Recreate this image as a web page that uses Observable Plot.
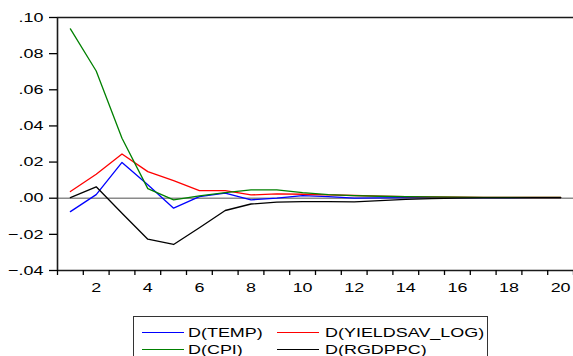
<!DOCTYPE html>
<html><head><meta charset="utf-8">
<script src="https://cdn.jsdelivr.net/npm/d3@7"></script>
<script src="https://cdn.jsdelivr.net/npm/@observablehq/plot@0.6"></script>
<style>
html,body{margin:0;padding:0;background:#fff;}
#wrap{position:relative;width:573px;height:356px;overflow:hidden;font-family:"Liberation Sans",Arial,sans-serif;background:#fff;}
#wrap svg{display:block;}
.leg-box{position:absolute;border:1px solid #333;box-sizing:border-box;}
.leg-line{position:absolute;height:0;border-top:1.3px solid;}
.leg-text{position:absolute;font-size:13px;line-height:13px;white-space:nowrap;transform:scaleX(1.38);transform-origin:0 50%;color:#000;}
</style></head><body><div id="wrap"></div>
<script>
// ---- data (impulse responses, periods 1..20) ----
const steps = [1,2,3,4,5,6,7,8,9,10,11,12,13,14,15,16,17,18,19,20];
const temp     = [-0.0074, 0.0020, 0.0198, 0.0075, -0.0055, 0.0009, 0.0028, -0.0009, 0.0000, 0.0014, 0.0009, 0.0001, 0.0002, 0.0003, 0.0003, 0.0003, 0.0003, 0.0003, 0.0003, 0.0003];
const yieldsav = [0.0037, 0.0133, 0.0245, 0.0147, 0.0097, 0.0042, 0.0042, 0.0018, 0.0024, 0.0022, 0.0018, 0.0015, 0.0012, 0.0009, 0.0007, 0.0006, 0.0005, 0.0005, 0.0004, 0.0004];
const cpi      = [0.0937, 0.0704, 0.0332, 0.0053, -0.0009, 0.0013, 0.0031, 0.0046, 0.0046, 0.0031, 0.0020, 0.0014, 0.0011, 0.0009, 0.0007, 0.0006, 0.0005, 0.0005, 0.0004, 0.0004];
const rgdppc   = [0.0003, 0.0063, -0.0083, -0.0227, -0.0256, -0.0163, -0.0068, -0.0032, -0.0022, -0.0019, -0.0019, -0.0020, -0.0013, -0.0006, -0.0002, 0.0000, 0.0002, 0.0002, 0.0003, 0.0003];
const seriesNames = ["D(TEMP)", "D(YIELDSAV_LOG)", "D(CPI)", "D(RGDPPC)"];
const seriesColors = ["#0000ff", "#ff0000", "#008000", "#000000"];
const yTicks = [-0.04, -0.02, 0.00, 0.02, 0.04, 0.06, 0.08, 0.10];
const xLabelTicks = [2,4,6,8,10,12,14,16,18,20];
const xMinorTicks = d3.range(0.5, 20.6, 1);

const seriesValues = [temp, yieldsav, cpi, rgdppc];
const fmt = d => d3.format(".2f")(d).replace("0.", ".");

const lines = seriesValues.map((vals, k) =>
  Plot.line(steps.map((s, i) => ({step: s, value: vals[i]})), {
    x: "step", y: "value", stroke: seriesColors[k], strokeWidth: 1.3
  })
);

const chart = Plot.plot({
  width: 573,
  height: 300,
  marginLeft: 57,
  marginRight: 0,
  marginTop: 17,
  marginBottom: 30,
  style: {fontFamily: "'Liberation Sans', Arial, sans-serif", fontSize: "13px", color: "#000", background: "#fff"},
  x: {type: "linear", domain: [0.5, 20.5], label: null},
  y: {domain: [-0.04, 0.10], label: null},
  marks: [
    Plot.ruleY([0], {x1: 0.5, x2: 20.5, stroke: "#8a8a8a", strokeWidth: 1.6}),
    ...lines,
    Plot.ruleY([0.10], {x1: 0.5, x2: 20.5, stroke: "#1a1a1a", strokeWidth: 1.6}),
    Plot.ruleY([-0.04], {x1: 0.5, x2: 20.5, stroke: "#1a1a1a", strokeWidth: 1.6}),
    Plot.ruleX([0.5], {y1: -0.04, y2: 0.10, stroke: "#1a1a1a", strokeWidth: 1.6}),
    Plot.axisY({ticks: yTicks, tickSize: 8, tickPadding: 6, tickFormat: fmt, label: null, strokeWidth: 1.3}),
    Plot.axisX({ticks: xMinorTicks, tickSize: 5, tickFormat: () => "", label: null, strokeWidth: 1.3}),
    Plot.axisX({ticks: xLabelTicks, tickSize: 0, tickPadding: 12, tickFormat: d => String(d), label: null})
  ]
});

// horizontally stretch text glyphs like the reference image
const S = 1.38;
chart.querySelectorAll("text").forEach(t => {
  const x = +(t.getAttribute("x") || 0);
  const tr = t.getAttribute("transform") || "";
  t.setAttribute("transform", `${tr} translate(${x},0) scale(${S},1) translate(${-x},0)`.trim());
});

const wrap = document.getElementById("wrap");
wrap.appendChild(chart);

// legend (HTML, below the SVG)
const box = document.createElement("div");
box.className = "leg-box";
Object.assign(box.style, {left: "133px", top: "316px", width: "355px", height: "60px"});
wrap.appendChild(box);
const legPos = [
  {lx: 142, tx: 188, cy: 332.5},
  {lx: 277, tx: 325, cy: 332.5},
  {lx: 142, tx: 188, cy: 349.5},
  {lx: 277, tx: 325, cy: 349.5}
];
seriesNames.forEach((name, k) => {
  const p = legPos[k];
  const ln = document.createElement("div");
  ln.className = "leg-line";
  Object.assign(ln.style, {left: p.lx + "px", top: (p.cy - 0.5) + "px", width: "42px", borderTopColor: seriesColors[k]});
  wrap.appendChild(ln);
  const tx = document.createElement("div");
  tx.className = "leg-text";
  tx.textContent = name;
  Object.assign(tx.style, {left: p.tx + "px", top: (p.cy - 6.4) + "px"});
  wrap.appendChild(tx);
});
</script></body></html>
